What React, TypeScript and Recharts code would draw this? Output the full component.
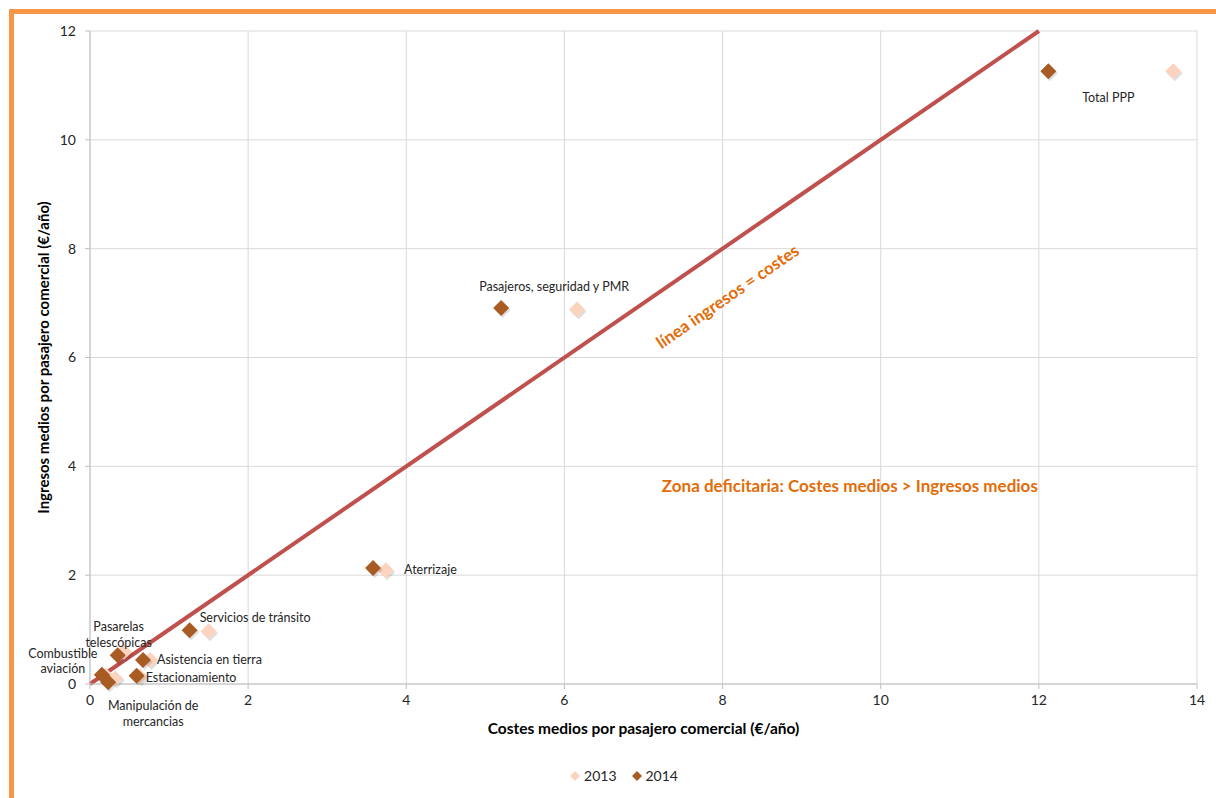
import React from "react";
import {
  ScatterChart,
  Scatter,
  XAxis,
  YAxis,
  CartesianGrid,
  ReferenceLine,
  ReferenceDot,
  Legend,
  LabelList,
} from "recharts";

// Servicios aeroportuarios: coste e ingreso medio por pasajero comercial
const categories = [
  "Total PPP",
  "Pasajeros, seguridad y PMR",
  "Aterrizaje",
  "Servicios de tránsito",
  "Pasarelas telescópicas",
  "Asistencia en tierra",
  "Estacionamiento",
  "Combustible aviación",
  "Manipulación de mercancias",
];
const costes2013 = [13.7, 6.16, 3.74, 1.5, 0.43, 0.76, 0.63, 0.2, 0.32];
const ingresos2013 = [11.26, 6.88, 2.09, 0.97, 0.59, 0.44, 0.14, 0.15, 0.1];
const costes2014 = [12.12, 5.2, 3.58, 1.26, 0.35, 0.67, 0.59, 0.15, 0.23];
const ingresos2014 = [11.26, 6.91, 2.13, 0.99, 0.53, 0.44, 0.15, 0.17, 0.03];

// how each category name is wrapped on the chart
const labelLines = [
  ["Total PPP"],
  ["Pasajeros, seguridad y PMR"],
  ["Aterrizaje"],
  ["Servicios de tránsito"],
  ["Pasarelas", "telescópicas"],
  ["Asistencia en tierra"],
  ["Estacionamiento"],
  ["Combustible", "aviación"],
  ["Manipulación de", "mercancias"],
];

const xTicks = [0, 2, 4, 6, 8, 10, 12, 14];
const yTicks = [0, 2, 4, 6, 8, 10, 12];

// label placement around the 2014 marker (pixels)
const LABEL_POS: { dx: number; dy: number; anchor: "start" | "middle" | "end" }[] = [
  { dx: 60, dy: 26, anchor: "middle" },
  { dx: 53, dy: -22, anchor: "middle" },
  { dx: 31, dy: 1, anchor: "start" },
  { dx: 10, dy: -13, anchor: "start" },
  { dx: 1, dy: -29, anchor: "middle" },
  { dx: 14, dy: -1, anchor: "start" },
  { dx: 9, dy: 1, anchor: "start" },
  { dx: -39, dy: -22, anchor: "middle" },
  { dx: 45, dy: 23, anchor: "middle" },
];

const COLOR_2013 = "#FBD3BF";
const COLOR_2014 = "#A95B24";
const ORANGE = "#E36C09";
const FONT = "Lato, 'Open Sans', sans-serif";

const data2013 = categories.map((name, i) => ({ name, x: costes2013[i], y: ingresos2013[i], idx: i }));
const data2014 = categories.map((name, i) => ({ name, x: costes2014[i], y: ingresos2014[i], idx: i }));

function Diamond(props: any) {
  const { cx, cy, fill } = props;
  const r = 8;
  const pts = `${cx},${cy - r} ${cx + r},${cy} ${cx},${cy + r} ${cx - r},${cy}`;
  const sh = `${cx + 1.5},${cy - r + 2} ${cx + r + 1.5},${cy + 2} ${cx + 1.5},${cy + r + 2} ${cx - r + 1.5},${cy + 2}`;
  return (
    <g>
      <polygon points={sh} fill="#000" opacity={0.12} />
      <polygon points={pts} fill={fill} />
    </g>
  );
}

function PointLabel(props: any) {
  const { x, y, width, height, index } = props;
  const cx = x + width / 2;
  const cy = y + height / 2;
  const pos = LABEL_POS[index];
  return (
    <text
      x={cx + pos.dx}
      y={cy + pos.dy}
      textAnchor={pos.anchor}
      dominantBaseline="central"
      fontSize={12.5}
      fontFamily={FONT}
      fill="#262626"
    >
      {labelLines[index].map((line, k) => (
        <tspan key={k} x={cx + pos.dx} dy={k === 0 ? 0 : 15.5}>
          {line}
        </tspan>
      ))}
    </text>
  );
}

function LegendContent() {
  const items = [
    { label: "2013", color: COLOR_2013 },
    { label: "2014", color: COLOR_2014 },
  ];
  return (
    <div
      style={{
        display: "flex",
        justifyContent: "center",
        gap: 14,
        paddingLeft: 36,
        fontFamily: FONT,
        fontSize: 14,
        color: "#262626",
      }}
    >
      {items.map((it) => (
        <span key={it.label} style={{ display: "inline-flex", alignItems: "center", gap: 3 }}>
          <svg width={12} height={12}>
            <polygon points="6,1 11,6 6,11 1,6" fill={it.color} />
          </svg>
          {it.label}
        </span>
      ))}
    </div>
  );
}

export default function App() {
  const tickStyle = { fontSize: 14, fill: "#262626", fontFamily: FONT };
  return (
    <div
      style={{
        position: "absolute",
        left: 9,
        top: 9,
        width: 1207,
        height: 789,
        borderTop: "5px solid #F79646",
        borderLeft: "5px solid #F79646",
        background: "#fff",
      }}
    >
      <ScatterChart width={1202} height={784} margin={{ top: 17, right: 19, left: 0, bottom: 14 }}>
        <CartesianGrid stroke="#D9D9D9" />
        <XAxis
          type="number"
          dataKey="x"
          domain={[0, 14]}
          ticks={xTicks}
          interval={0}
          height={83}
          tick={tickStyle}
          tickSize={5}
          tickMargin={6}
          axisLine={{ stroke: "#BFBFBF" }}
          tickLine={{ stroke: "#BFBFBF" }}
          label={{
            value: "Costes medios por pasajero comercial (€/año)",
            position: "insideBottom",
            offset: 33,
            style: { fontSize: 15.5, fontWeight: 700, fill: "#000", fontFamily: FONT },
          }}
        />
        <YAxis
          type="number"
          dataKey="y"
          domain={[0, 12]}
          ticks={yTicks}
          interval={0}
          width={76}
          tick={tickStyle}
          tickSize={5}
          tickMargin={9}
          axisLine={{ stroke: "#BFBFBF" }}
          tickLine={{ stroke: "#BFBFBF" }}
          label={{
            value: "Ingresos medios por pasajero comercial (€/año)",
            angle: -90,
            position: "insideLeft",
            offset: 30,
            style: { fontSize: 15, fontWeight: 700, fill: "#000", fontFamily: FONT, textAnchor: "middle" },
          }}
        />
        <ReferenceLine
          segment={[
            { x: 0, y: 0 },
            { x: 12, y: 12 },
          ]}
          stroke="#C0504D"
          strokeWidth={4}
          ifOverflow="visible"
        />
        <ReferenceDot
          x={8.06}
          y={7.13}
          r={0}
          fill="none"
          stroke="none"
          label={(p: any) => {
            const { cx, cy } = p.viewBox ?? {};
            const x = cx ?? p.x;
            const y = cy ?? p.y;
            return (
              <text
                x={x}
                y={y}
                textAnchor="middle"
                dominantBaseline="central"
                transform={`rotate(-34.6 ${x} ${y})`}
                fontSize={17}
                fontWeight={700}
                fontFamily={FONT}
                fill={ORANGE}
              >
                línea ingresos = costes
              </text>
            );
          }}
        />
        <ReferenceDot
          x={9.61}
          y={3.64}
          r={0}
          fill="none"
          stroke="none"
          label={{
            value: "Zona deficitaria: Costes medios > Ingresos medios",
            position: "center",
            style: { fontSize: 17, fontWeight: 700, fill: ORANGE, fontFamily: FONT },
          }}
        />
        <Scatter name="2013" data={data2013} fill={COLOR_2013} shape={Diamond} isAnimationActive={false} />
        <Scatter name="2014" data={data2014} fill={COLOR_2014} shape={Diamond} isAnimationActive={false}>
          <LabelList dataKey="name" content={PointLabel} />
        </Scatter>
        <Legend verticalAlign="bottom" content={LegendContent} />
      </ScatterChart>
    </div>
  );
}
